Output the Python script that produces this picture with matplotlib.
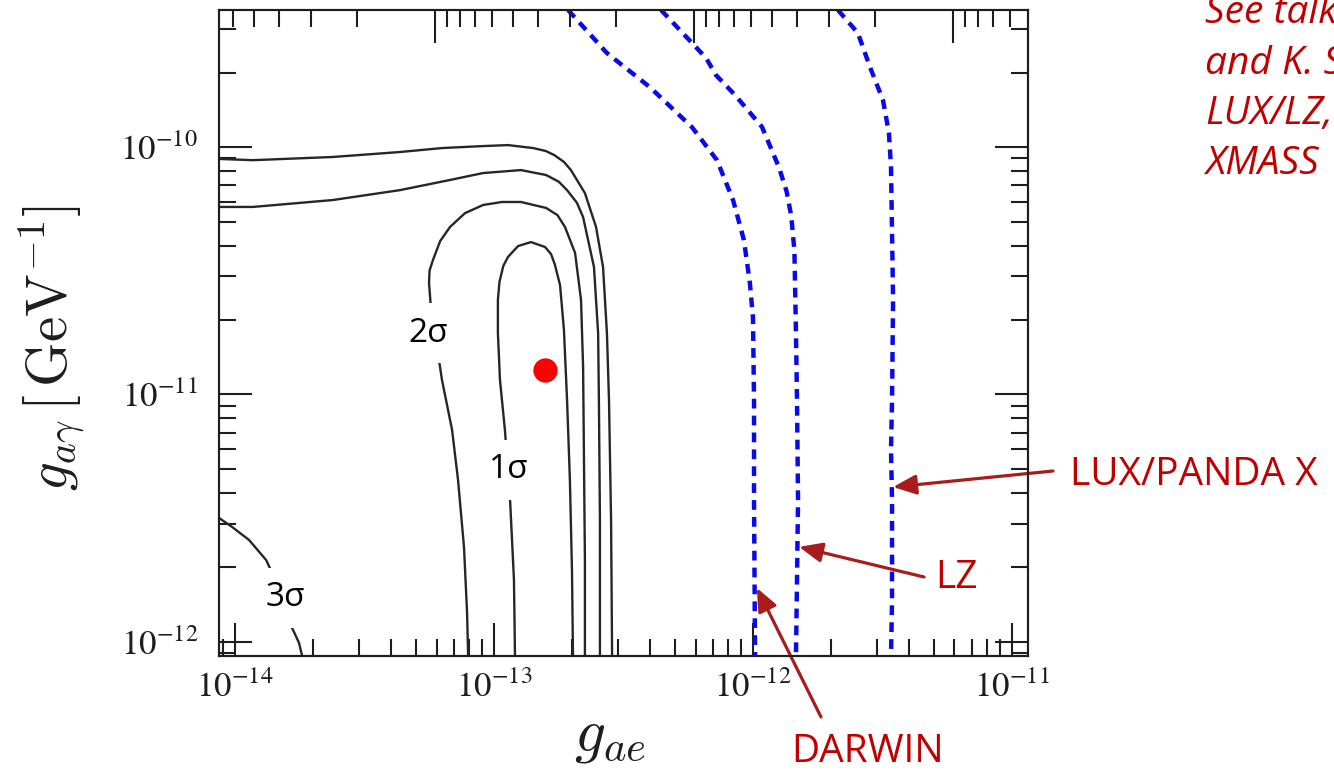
import numpy as np
import matplotlib
matplotlib.use('Agg')
import matplotlib.pyplot as plt
from matplotlib.ticker import NullFormatter, FixedLocator

plt.rcParams['mathtext.fontset'] = 'stix'
plt.rcParams['font.family'] = ['STIXGeneral', 'DejaVu Serif']

W, H = 1334, 783

# ---- digitised curves, log10(g_ae) / log10(g_agamma) ----
# 1 sigma closed contour: left leg up, over the top, right leg down
sig1_lgae = [-12.919, -12.923, -12.938, -12.958, -12.977, -12.985, -12.985, -12.979, -12.964, -12.946,
             -12.907, -12.857, -12.803, -12.780, -12.765, -12.745, -12.730, -12.718, -12.707, -12.699,
             -12.695]
sig1_lgag = [-12.057, -11.749, -11.426, -11.143, -10.941, -10.752, -10.618, -10.545, -10.480, -10.444,
             -10.400, -10.384, -10.404, -10.432, -10.475, -10.558, -10.739, -11.022, -11.345, -11.709,
             -12.057]

# 2 sigma closed contour
sig2_lgae = [-13.100, -13.104, -13.116, -13.139, -13.162, -13.201, -13.224, -13.243, -13.251, -13.249,
             -13.236, -13.208, -13.170, -13.112, -13.042, -12.969, -12.896, -12.799, -12.755, -12.726,
             -12.687, -12.664, -12.656, -12.653, -12.649, -12.649]
sig2_lgag = [-12.057, -11.883, -11.616, -11.345, -11.143, -10.941, -10.780, -10.659, -10.549, -10.500,
             -10.457, -10.380, -10.323, -10.267, -10.234, -10.222, -10.222, -10.246, -10.275, -10.323,
             -10.428, -10.618, -10.889, -11.224, -11.669, -12.057]

# two outer contours that run off the left edge
out1_lgae = [-14.062, -13.931, -13.622, -13.363, -13.170, -13.042, -12.896, -12.799, -12.750, -12.718,
             -12.680, -12.656, -12.614, -12.598, -12.595, -12.591, -12.591]
out1_lgag = [-10.242, -10.242, -10.214, -10.174, -10.133, -10.105, -10.093, -10.113, -10.140, -10.174,
             -10.225, -10.283, -10.485, -10.752, -11.022, -11.507, -12.057]

out2_lgae = [-14.062, -13.931, -13.622, -13.363, -13.201, -13.042, -12.946, -12.849, -12.800, -12.768,
             -12.730, -12.703, -12.649, -12.606, -12.579, -12.564, -12.556, -12.548, -12.544]
out2_lgag = [-10.048, -10.053, -10.040, -10.020, -10.004, -9.996, -9.992, -10.004, -10.016, -10.032,
             -10.060, -10.093, -10.186, -10.323, -10.485, -10.752, -11.022, -11.507, -12.057]

# 3 sigma piece in the lower left corner
sig3_lgae = [-14.062, -14.012, -13.946, -13.880, -13.826, -13.780, -13.753, -13.741]
sig3_lgag = [-11.499, -11.535, -11.588, -11.669, -11.790, -11.943, -12.004, -12.057]

# projected sensitivities
darwin_lgae = [-12.714, -12.564, -12.398, -12.236, -12.139, -12.077, -12.035, -12.012, -12.000, -11.996,
               -11.996, -11.992]
darwin_lgag = [-9.446, -9.620, -9.758, -9.919, -10.053, -10.214, -10.376, -10.549, -10.690, -11.022,
               -11.426, -12.057]

lz_lgae = [-12.355, -12.181, -12.143, -12.069, -11.965, -11.900, -11.870, -11.852, -11.840, -11.834,
           -11.830, -11.826, -11.830, -11.834]
lz_lgag = [-9.446, -9.640, -9.709, -9.790, -9.919, -10.081, -10.180, -10.280, -10.420, -10.752,
           -11.022, -11.426, -11.749, -12.057]

lux_lgae = [-11.672, -11.595, -11.548, -11.498, -11.475, -11.467, -11.463, -11.459, -11.463, -11.467,
            -11.463, -11.463, -11.467]
lux_lgag = [-9.446, -9.539, -9.677, -9.810, -9.943, -10.081, -10.347, -10.618, -11.022, -11.224,
            -11.426, -11.830, -12.057]

best_fit = (-12.803, -10.901)

# where the arrows touch each sensitivity curve
lux_tip = (-11.459, -11.374)
lz_tip = (-11.822, -11.616)
darwin_tip = (-11.985, -11.782)

sigma_labels = ['1σ', '2σ', '3σ']
sigma_label_pos = [(-12.942, -11.305), (-13.255, -10.752), (-13.807, -11.822)]

note_lines = ['See talk', 'and K. S', 'LUX/LZ,', 'XMASS']

x_decades = [1e-14, 1e-13, 1e-12, 1e-11]
y_decades = [1e-12, 1e-11, 1e-10]


def fpx(x, y):
    """pixel position (from top-left) -> figure fraction"""
    return x / W, 1 - y / H


def pw(a):
    return 10 ** np.asarray(a)


ink = '#1e1e1e'
red_txt = '#c00000'
red_arrow = '#a81c1c'
blue = '#0a0ae8'
sans = ['Open Sans', 'DejaVu Sans']

fig = plt.figure(figsize=(W / 100, H / 100), dpi=100)
ax = fig.add_axes([219 / W, 1 - 656 / H, 809 / W, 646 / H])
ax.set_xscale('log')
ax.set_yscale('log')
ax.set_xlim(10 ** -14.062, 10 ** -10.938)
ax.set_ylim(10 ** -12.057, 10 ** -9.446)

# contours
for xs, ys in [(sig1_lgae, sig1_lgag), (sig2_lgae, sig2_lgag), (out1_lgae, out1_lgag),
               (out2_lgae, out2_lgag), (sig3_lgae, sig3_lgag)]:
    ax.plot(pw(xs), pw(ys), color='#262626', lw=1.7, zorder=2)

# sensitivity curves
for xs, ys in [(darwin_lgae, darwin_lgag), (lz_lgae, lz_lgag), (lux_lgae, lux_lgag)]:
    ax.plot(pw(xs), pw(ys), color=blue, lw=3.2, ls=(0, (2.2, 1.6)), zorder=3)

ax.plot(pw(best_fit[0]), pw(best_fit[1]), 'o', ms=17.5, color='#ff0000', mec='none', zorder=4)

for lab, (lx, ly) in zip(sigma_labels, sigma_label_pos):
    ax.text(pw(lx), pw(ly), lab, fontsize=24, family=sans, color='black',
            ha='center', va='center', zorder=5,
            bbox=dict(boxstyle='square,pad=0.4', fc='white', ec='none'))

# axis styling
ax.xaxis.set_major_locator(FixedLocator(x_decades))
ax.yaxis.set_major_locator(FixedLocator(y_decades))
ax.tick_params(which='both', direction='in', right=True, top=False, color=ink, width=1.5,
               labelsize=25, labelcolor=ink)
ax.tick_params(which='major', length=23.5)
ax.tick_params(which='minor', length=12)
ax.tick_params(axis='x', pad=11)
ax.tick_params(axis='y', pad=15)
ax.xaxis.set_minor_formatter(NullFormatter())
ax.yaxis.set_minor_formatter(NullFormatter())
for s in ax.spines.values():
    s.set_linewidth(1.5)
    s.set_color(ink)

top = ax.twiny()
top.set_xscale('log')
top.set_xlim(10 ** 0.834, 10 ** -2.290)
top.tick_params(which='both', direction='in', labeltop=False, color=ink, width=1.5)
top.tick_params(which='major', length=23.5)
top.tick_params(which='minor', length=12)
top.xaxis.set_minor_formatter(NullFormatter())
for s in top.spines.values():
    s.set_linewidth(1.5)
    s.set_color(ink)

ax.set_xlabel(r'$g_{ae}$', fontsize=44, math_fontfamily='cm', va='center', color=ink)
ax.xaxis.set_label_coords(0.483, -0.127)
ax.set_ylabel(r'$g_{a\gamma}\,[\,\mathrm{GeV}^{-1}]$', fontsize=41, math_fontfamily='cm',
              va='center', color=ink)
ax.yaxis.set_label_coords(-0.206, 0.477)

# annotations
arrow = dict(arrowstyle='-|>,head_length=0.7,head_width=0.3', color=red_arrow, lw=2.3,
             shrinkA=0, shrinkB=0, mutation_scale=20)
for tip, tail in [(lux_tip, (1053, 471)), (lz_tip, (924, 577)), (darwin_tip, (821, 717))]:
    ax.annotate('', xy=(pw(tip[0]), pw(tip[1])), xytext=fpx(*tail), textcoords='figure fraction',
                arrowprops=arrow, annotation_clip=False, zorder=6)

fig.text(*fpx(1070, 475), 'LUX/PANDA X', fontsize=28, family=sans, color=red_txt,
         ha='left', va='center')
fig.text(*fpx(935, 578), 'LZ', fontsize=28, family=sans, color=red_txt, ha='left', va='center')
fig.text(*fpx(868, 752), 'DARWIN', fontsize=28, family=sans, color=red_txt,
         ha='center', va='center')

for i, line in enumerate(note_lines):
    fig.text(*fpx(1205, 23 + 50.5 * i), line, fontsize=28, family=sans, style='italic',
             color=red_txt, ha='left', va='baseline')

fig.savefig('out.png', dpi=100)
